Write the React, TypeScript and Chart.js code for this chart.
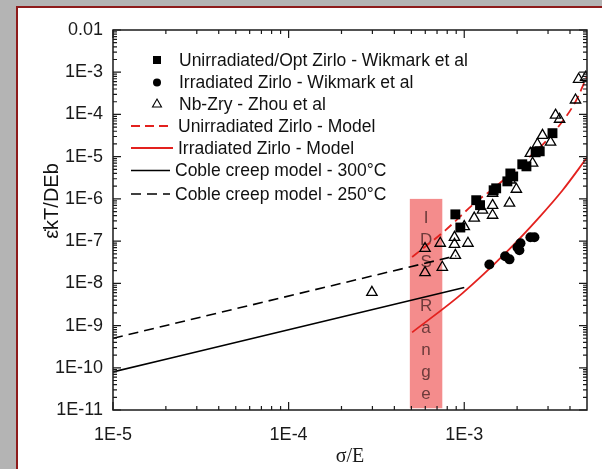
import { useEffect, useRef } from 'react';
import { Chart, registerables } from 'chart.js';

Chart.register(...registerables);

// ---- axis ticks ----
const xTickValues = [1e-5, 1e-4, 1e-3];
const xTickLabels = ['1E-5', '1E-4', '1E-3'];
const yTickValues = [1e-11, 1e-10, 1e-9, 1e-8, 1e-7, 1e-6, 1e-5, 1e-4, 1e-3, 1e-2];
const yTickLabels = ['1E-11', '1E-10', '1E-9', '1E-8', '1E-7', '1E-6', '1E-5', '1E-4', '1E-3', '0.01'];
const minorMultipliers = [2, 3, 4, 5, 6, 7, 8, 9];

// ---- series ----
const seriesLabels = [
  'Unirradiated/Opt Zirlo - Wikmark et al',
  'Irradiated Zirlo - Wikmark et al',
  'Nb-Zry - Zhou et al',
  'Unirradiated Zirlo - Model',
  'Irradiated Zirlo - Model',
  'Coble creep model - 300°C',
  'Coble creep model - 250°C',
];

const unirrX = [8.9e-4, 9.5e-4, 1.17e-3, 1.23e-3, 1.47e-3, 1.52e-3, 1.76e-3, 1.83e-3, 1.9e-3, 2.14e-3, 2.26e-3, 2.55e-3, 2.69e-3, 3.18e-3];
const unirrY = [4.3e-7, 2.1e-7, 9.3e-7, 7.1e-7, 1.6e-6, 1.78e-6, 2.6e-6, 4.0e-6, 3.4e-6, 6.6e-6, 5.9e-6, 1.27e-5, 1.34e-5, 3.6e-5];

const irrX = [1.39e-3, 1.71e-3, 1.81e-3, 2.01e-3, 2.09e-3, 2.06e-3, 2.38e-3, 2.51e-3];
const irrY = [2.8e-8, 4.4e-8, 3.7e-8, 7.1e-8, 8.9e-8, 6.1e-8, 1.23e-7, 1.23e-7];

const zhouX = [2.98e-4, 5.98e-4, 5.98e-4, 7.3e-4, 7.5e-4, 8.8e-4, 8.8e-4, 8.9e-4, 1.0e-3, 1.05e-3, 1.14e-3, 1.27e-3, 1.45e-3, 1.45e-3, 1.45e-3, 1.81e-3, 1.83e-3, 1.98e-3, 2.38e-3, 2.45e-3, 2.61e-3, 2.79e-3, 3.1e-3, 3.31e-3, 3.49e-3, 4.3e-3, 4.48e-3, 4.91e-3];
const zhouY = [6.1e-9, 6.7e-8, 1.8e-8, 8.9e-8, 2.4e-8, 1.23e-7, 8.4e-8, 4.6e-8, 2.2e-7, 8.9e-8, 3.5e-7, 5.4e-7, 7.0e-7, 4.1e-7, 1.36e-6, 7.9e-7, 2.8e-6, 1.69e-6, 1.2e-5, 7.0e-6, 1.97e-5, 3.2e-5, 2.2e-5, 9.6e-5, 7.7e-5, 2.2e-4, 6.8e-4, 7.6e-4];

const unirrModelX = [5.05e-4, 7.8e-4, 1.16e-3, 1.45e-3, 2.14e-3, 3.06e-3, 4.3e-3, 5.0e-3];
const unirrModelY = [4.2e-8, 1.8e-7, 8.3e-7, 1.7e-6, 6.9e-6, 2.9e-5, 2.0e-4, 8.0e-4];

const irrModelX = [5.05e-4, 9.75e-4, 1.71e-3, 2.68e-3, 3.63e-3, 5.0e-3];
const irrModelY = [6.9e-10, 5.8e-9, 5.1e-8, 3.7e-7, 1.6e-6, 9.5e-6];

const coble300X = [1e-5, 1e-3];
const coble300Y = [8e-11, 8e-9];
const coble250X = [1e-5, 9e-4];
const coble250Y = [5e-10, 4.5e-8];

// IDS range band
const idsX = [4.9e-4, 7.5e-4];
const idsY = [1.1e-11, 1.0e-6];
const idsText = 'IDS Range';

const xTitle = 'σ/E';
const yTitle = 'ε̇kT/DEb';

const SANS = "'Liberation Sans', Arial, sans-serif";
const SERIF = "'Liberation Serif', 'Times New Roman', serif";
const RED = '#e3211e';

const toPts = (xs: number[], ys: number[]) => xs.map((x, i) => ({ x, y: ys[i] }));
const labelFor = (vals: number[], labels: string[], v: number) => {
  const i = vals.findIndex((t) => Math.abs(Math.log10(t) - Math.log10(v)) < 1e-6);
  return i >= 0 ? labels[i] : '';
};

const decor = {
  id: 'decor',
  beforeDraw(chart: any) {
    const { ctx, width, height } = chart;
    ctx.save();
    ctx.fillStyle = '#b4b4b4';
    ctx.fillRect(0, 0, width, height);
    ctx.fillStyle = '#ffffff';
    ctx.fillRect(16, 6, width - 16, height - 6);
    ctx.fillStyle = '#8e1b1b';
    ctx.fillRect(16, 6, width - 16, 2);
    ctx.fillRect(16, 6, 2, height - 6);
    ctx.restore();
  },
  beforeDatasetsDraw(chart: any) {
    const { ctx } = chart;
    const xs = chart.scales.x;
    const ys = chart.scales.y;
    const x0 = xs.getPixelForValue(idsX[0]);
    const x1 = xs.getPixelForValue(idsX[1]);
    const y0 = ys.getPixelForValue(idsY[1]);
    const y1 = ys.getPixelForValue(idsY[0]);
    ctx.save();
    ctx.fillStyle = 'rgba(243,130,130,0.92)';
    ctx.fillRect(x0, y0, x1 - x0, y1 - y0);
    ctx.fillStyle = 'rgba(85,45,45,0.85)';
    ctx.font = `17px ${SANS}`;
    ctx.textAlign = 'center';
    ctx.textBaseline = 'middle';
    idsText.split('').forEach((ch, i) => {
      if (ch !== ' ') ctx.fillText(ch, (x0 + x1) / 2, y0 + 19 + i * 22);
    });
    ctx.restore();
  },
  afterDatasetsDraw(chart: any) {
    const { ctx, chartArea } = chart;
    const { left, right, top, bottom } = chartArea;
    const xs = chart.scales.x;
    const ys = chart.scales.y;
    ctx.save();
    // frame
    ctx.strokeStyle = '#1a1a1a';
    ctx.lineWidth = 1.5;
    ctx.strokeRect(left, top, right - left, bottom - top);
    ctx.lineWidth = 1.2;
    ctx.beginPath();
    const tickX = (v: number, len: number) => {
      const p = xs.getPixelForValue(v);
      ctx.moveTo(p, bottom);
      ctx.lineTo(p, bottom - len);
      ctx.moveTo(p, top);
      ctx.lineTo(p, top + len);
    };
    const tickY = (v: number, len: number) => {
      const p = ys.getPixelForValue(v);
      ctx.moveTo(left, p);
      ctx.lineTo(left + len, p);
      ctx.moveTo(right, p);
      ctx.lineTo(right - len, p);
    };
    const xmin = xs.min, xmax = xs.max, ymin = ys.min, ymax = ys.max;
    for (let e = Math.floor(Math.log10(xmin)); e <= Math.ceil(Math.log10(xmax)); e++) {
      const base = Math.pow(10, e);
      if (base >= xmin * 0.999 && base <= xmax * 1.001) tickX(base, 8);
      minorMultipliers.forEach((m) => {
        const v = m * base;
        if (v > xmin && v < xmax) tickX(v, 4);
      });
    }
    for (let e = Math.floor(Math.log10(ymin)); e <= Math.ceil(Math.log10(ymax)); e++) {
      const base = Math.pow(10, e);
      if (base >= ymin * 0.999 && base <= ymax * 1.001) tickY(base, 8);
      minorMultipliers.forEach((m) => {
        const v = m * base;
        if (v > ymin && v < ymax) tickY(v, 4);
      });
    }
    ctx.stroke();

    // legend
    const rowY = [60, 82.5, 104, 126, 148, 170.5, 194];
    const textX = [179, 179, 179, 178, 178, 175, 175];
    ctx.font = `17.5px ${SANS}`;
    ctx.textAlign = 'left';
    ctx.textBaseline = 'middle';
    chart.data.datasets.forEach((ds: any, i: number) => {
      const yy = rowY[i];
      ctx.save();
      if (ds.showLine) {
        ctx.strokeStyle = ds.borderColor;
        ctx.lineWidth = ds.borderWidth;
        ctx.setLineDash(ds.borderDash || []);
        ctx.beginPath();
        ctx.moveTo(131, yy);
        ctx.lineTo(textX[i] - 5, yy);
        ctx.stroke();
      } else if (ds.pointStyle === 'rect') {
        ctx.fillStyle = '#000';
        ctx.fillRect(153, yy - 4, 8, 8);
      } else if (ds.pointStyle === 'circle') {
        ctx.fillStyle = '#000';
        ctx.beginPath();
        ctx.arc(157, yy, 4, 0, Math.PI * 2);
        ctx.fill();
      } else {
        ctx.strokeStyle = '#000';
        ctx.lineWidth = 1.1;
        ctx.beginPath();
        ctx.moveTo(157, yy - 5);
        ctx.lineTo(161.5, yy + 3);
        ctx.lineTo(152.5, yy + 3);
        ctx.closePath();
        ctx.stroke();
      }
      ctx.restore();
      ctx.fillStyle = '#111';
      ctx.fillText(ds.label, textX[i], yy + 1);
    });

    // y title
    ctx.save();
    ctx.translate(52, 201);
    ctx.rotate(-Math.PI / 2);
    ctx.font = `20px ${SANS}`;
    ctx.fillStyle = '#111';
    ctx.textAlign = 'center';
    ctx.textBaseline = 'middle';
    ctx.fillText(yTitle, 0, 0);
    ctx.restore();
    ctx.restore();
  },
};

export default function App() {
  const ref = useRef<HTMLCanvasElement>(null);
  useEffect(() => {
    document.body.style.margin = '0';
    const canvas = ref.current!;
    const pointDs = (label: string, xs: number[], ys: number[], style: string, radius: number, filled: boolean) => ({
      label,
      data: toPts(xs, ys),
      showLine: false,
      pointStyle: style,
      pointRadius: radius,
      pointHoverRadius: radius,
      backgroundColor: filled ? '#000' : 'rgba(0,0,0,0)',
      borderColor: '#000',
      borderWidth: filled ? 0 : 1.3,
      order: 1,
    });
    const lineDs = (label: string, xs: number[], ys: number[], color: string, dash: number[], width: number) => ({
      label,
      data: toPts(xs, ys),
      showLine: true,
      pointRadius: 0,
      pointHoverRadius: 0,
      borderColor: color,
      backgroundColor: color,
      borderWidth: width,
      borderDash: dash,
      cubicInterpolationMode: 'monotone',
      fill: false,
      order: 5,
    });
    const chart = new Chart(canvas, {
      type: 'scatter',
      data: {
        datasets: [
          pointDs(seriesLabels[0], unirrX, unirrY, 'rect', 7, true),
          pointDs(seriesLabels[1], irrX, irrY, 'circle', 5, true),
          pointDs(seriesLabels[2], zhouX, zhouY, 'triangle', 6, false),
          lineDs(seriesLabels[3], unirrModelX, unirrModelY, RED, [9, 5], 1.8),
          lineDs(seriesLabels[4], irrModelX, irrModelY, RED, [], 1.8),
          lineDs(seriesLabels[5], coble300X, coble300Y, '#000', [], 1.6),
          lineDs(seriesLabels[6], coble250X, coble250Y, '#000', [10, 6], 1.6),
        ] as any,
      },
      options: {
        responsive: false,
        animation: false,
        devicePixelRatio: 1,
        layout: { padding: { left: 0, top: 30, right: 15, bottom: 0 } },
        plugins: { legend: { display: false }, tooltip: { enabled: false } },
        scales: {
          x: {
            type: 'logarithmic',
            position: 'bottom',
            min: 1e-5,
            max: 5e-3,
            grid: { display: false, drawTicks: false },
            border: { display: false },
            afterBuildTicks: (scale: any) => {
              scale.ticks = xTickValues.map((v) => ({ value: v }));
            },
            afterFit: (scale: any) => {
              scale.height = 59;
            },
            ticks: {
              autoSkip: false,
              maxRotation: 0,
              padding: 14,
              color: '#1a1a1a',
              font: { family: SANS, size: 18 },
              callback: (v: any) => labelFor(xTickValues, xTickLabels, Number(v)),
            },
            title: {
              display: true,
              text: xTitle,
              color: '#1a1a1a',
              font: { family: SERIF, size: 20 },
              padding: { top: 0, bottom: 0 },
            },
          },
          y: {
            type: 'logarithmic',
            position: 'left',
            min: 1e-11,
            max: 1e-2,
            grid: { display: false, drawTicks: false },
            border: { display: false },
            afterBuildTicks: (scale: any) => {
              scale.ticks = yTickValues.map((v) => ({ value: v }));
            },
            afterFit: (scale: any) => {
              scale.width = 113;
            },
            ticks: {
              autoSkip: false,
              padding: 10,
              color: '#1a1a1a',
              font: { family: SANS, size: 18 },
              callback: (v: any) => labelFor(yTickValues, yTickLabels, Number(v)),
            },
          },
        },
      } as any,
      plugins: [decor],
    });
    return () => chart.destroy();
  }, []);
  return (
    <div style={{ width: 602, height: 469 }}>
      <canvas ref={ref} width={602} height={469} style={{ display: 'block' }} />
    </div>
  );
}
